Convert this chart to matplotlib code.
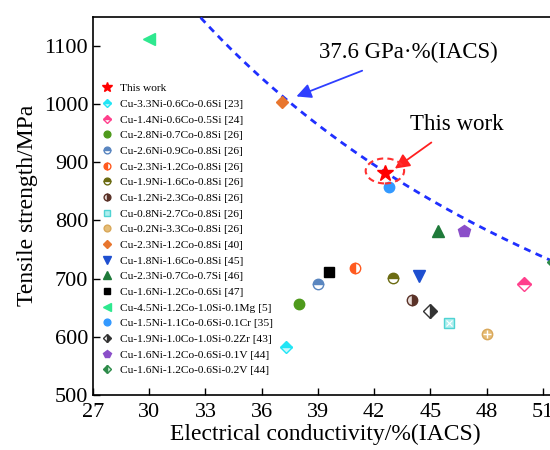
import numpy as np
import matplotlib
matplotlib.use("Agg")
import matplotlib.pyplot as plt
from matplotlib.patches import Ellipse

plt.rcParams['font.family'] = ['Liberation Serif', 'DejaVu Serif']
plt.rcParams['mathtext.fontset'] = 'stix'

labels = [
    "This work",
    "Cu-3.3Ni-0.6Co-0.6Si [23]",
    "Cu-1.4Ni-0.6Co-0.5Si [24]",
    "Cu-2.8Ni-0.7Co-0.8Si [26]",
    "Cu-2.6Ni-0.9Co-0.8Si [26]",
    "Cu-2.3Ni-1.2Co-0.8Si [26]",
    "Cu-1.9Ni-1.6Co-0.8Si [26]",
    "Cu-1.2Ni-2.3Co-0.8Si [26]",
    "Cu-0.8Ni-2.7Co-0.8Si [26]",
    "Cu-0.2Ni-3.3Co-0.8Si [26]",
    "Cu-2.3Ni-1.2Co-0.8Si [40]",
    "Cu-1.8Ni-1.6Co-0.8Si [45]",
    "Cu-2.3Ni-0.7Co-0.7Si [46]",
    "Cu-1.6Ni-1.2Co-0.6Si [47]",
    "Cu-4.5Ni-1.2Co-1.0Si-0.1Mg [5]",
    "Cu-1.5Ni-1.1Co-0.6Si-0.1Cr [35]",
    "Cu-1.9Ni-1.0Co-1.0Si-0.2Zr [43]",
    "Cu-1.6Ni-1.2Co-0.6Si-0.1V [44]",
    "Cu-1.6Ni-1.2Co-0.6Si-0.2V [44]",
]
conductivity = [42.6, 37.3, 50.0, 38.0, 39.0, 41.0, 43.0, 44.0, 46.0, 48.0,
                37.1, 44.4, 45.4, 39.6, 30.0, 42.8, 45.0, 46.8, 51.6]
strength = [882, 583, 690, 657, 690, 719, 701, 663, 624, 604,
            1003, 704, 781, 711, 1111, 857, 644, 782, 728]

styles = [
    dict(marker='*', color='red', ms=12),
    dict(marker='D', color='#22e5f5', fillstyle='top', mfcalt='#c9f7fb', ms=6.5),
    dict(marker='D', color='#ff3f8c', fillstyle='top', mfcalt='white', ms=7),
    dict(marker='o', color='#4e9a1c', ms=7.5),
    dict(marker='o', color='#5a86c0', fillstyle='top', mfcalt='white', ms=7.5),
    dict(marker='o', color='#ff5a1f', fillstyle='left', mfcalt='white', ms=7.5),
    dict(marker='o', color='#6b6b12', fillstyle='top', mfcalt='white', ms=7.5),
    dict(marker='o', color='#5a3228', fillstyle='right', mfcalt='#e8dcd8', ms=7.5),
    dict(marker='s', color='#4fd3d3', mfc='#aeeeee', ms=7),
    dict(marker='o', color='#d9a85a', mfc='#e6bd77', ms=7.5),
    dict(marker='D', color='#e8762e', ms=6.5),
    dict(marker='v', color='#1e4fd0', ms=9),
    dict(marker='^', color='#1f7a3a', ms=9),
    dict(marker='s', color='black', ms=7),
    dict(marker='<', color='#2ee88f', ms=9),
    dict(marker='o', color='#3399ff', ms=7.5),
    dict(marker='D', color='#333333', fillstyle='right', mfcalt='white', ms=7),
    dict(marker='p', color='#8b4fc9', ms=9),
    dict(marker='D', color='#2e8b4a', fillstyle='left', mfcalt='#cdeed7', ms=7),
]

fig = plt.figure(figsize=(5.5, 4.5), dpi=100)
ax = fig.add_axes([93/550, 1-395/450, (557-93)/550, (395-16.7)/450])

handles = []
for x, y, lab, st in zip(conductivity, strength, labels, styles):
    st = dict(st)
    ms = st.pop('ms')
    color = st.pop('color')
    mfc = st.pop('mfc', color)
    mfcalt = st.pop('mfcalt', None)
    kw = dict(marker=st.pop('marker'), markersize=ms, markerfacecolor=mfc,
              markeredgecolor=color, markeredgewidth=1.0, linestyle='none',
              zorder=4, clip_on=False)
    if 'fillstyle' in st:
        kw['fillstyle'] = st.pop('fillstyle')
        kw['markerfacecoloralt'] = mfcalt
    h, = ax.plot([x], [y], label=lab, **kw)
    handles.append(h)

# extra pattern marks
ax.plot([48.0], [604], marker='+', color='white', ms=6, mew=1.0, ls='none', zorder=5)
ax.plot([46.0], [624], marker='x', color='white', ms=4, mew=0.8, ls='none', zorder=5)

# iso product curve 37.6 GPa*%IACS
product = 37600
xs = np.linspace(27, 52, 400)
ax.plot(xs, product / xs, color='#1f2fff', lw=2.0, ls=(0, (2.5, 2.0)), zorder=3)

ax.add_patch(Ellipse((42.57, 885), 2.05, 43, fill=False, ec='#ff3030',
                     lw=1.5, ls=(0, (3, 2)), zorder=5))

ax.annotate('37.6 GPa·%(IACS)', xy=(37.85, 1013), xytext=(43.8, 1088),
            ha='center', va='center', fontsize=16.5,
            arrowprops=dict(arrowstyle='-|>', color='#2f3fff', lw=1.3,
                            mutation_scale=22, shrinkA=9, shrinkB=0))
ax.annotate('This work', xy=(43.1, 889), xytext=(46.4, 965),
            ha='center', va='center', fontsize=16.5,
            arrowprops=dict(arrowstyle='-|>', color='#ff2020', lw=1.3,
                            mutation_scale=22, shrinkA=6, shrinkB=0))

ax.set_xlim(27, 51.75)
ax.set_ylim(500, 1150)
ax.set_xticks([27, 30, 33, 36, 39, 42, 45, 48, 51])
ax.set_yticks([500, 600, 700, 800, 900, 1000, 1100])
ax.tick_params(direction='in', length=5, width=1, labelsize=16, top=False, right=False)
ax.tick_params(axis='x', pad=6)
for s in ax.spines.values():
    s.set_linewidth(1.2)
ax.set_xlabel('Electrical conductivity/%(IACS)', fontsize=17, labelpad=1)
ax.set_ylabel('Tensile strength/MPa', fontsize=17, labelpad=4)

leg = ax.legend(handles=handles, loc='upper left', bbox_to_anchor=(0.0, 0.845),
                frameon=False, fontsize=8.2, markerscale=0.65, handlelength=1.0,
                handletextpad=0.7, labelspacing=0.5, borderaxespad=0.3)

fig.savefig('out.png', dpi=100)
